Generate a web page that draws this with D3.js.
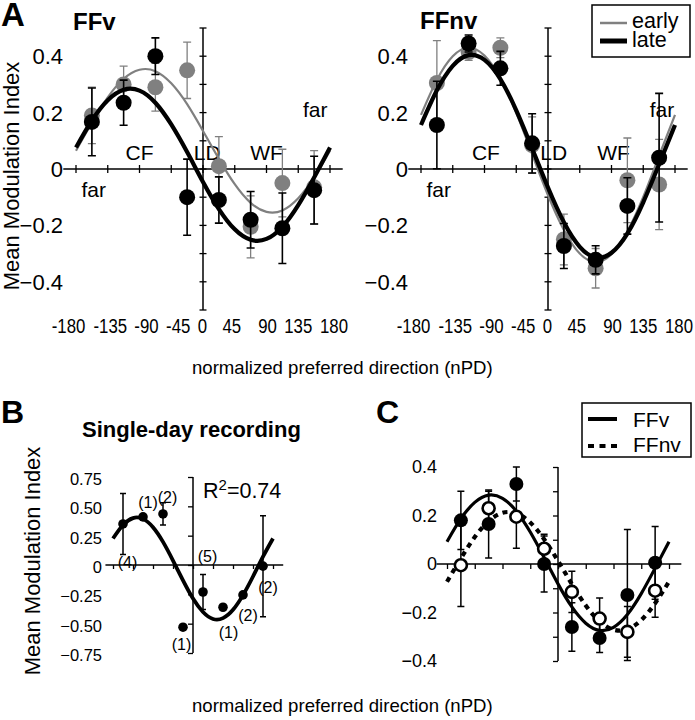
<!DOCTYPE html>
<html><head><meta charset="utf-8">
<script src="https://cdn.jsdelivr.net/npm/d3@7"></script>
<style>body{margin:0;background:#fff}svg{display:block;font-family:"Liberation Sans",Arial,Helvetica,sans-serif}</style>
</head><body><svg id="chart" width="695" height="720"></svg>
<script>
// ---------------- data ----------------
const nPD = [-157.5, -112.5, -67.5, -22.5, 22.5, 67.5, 112.5, 157.5];
const fitGrid = [-180, -157.5, -135, -112.5, -90, -67.5, -45, -22.5, 0, 22.5, 45, 67.5, 90, 112.5, 135, 157.5, 180];
const xTicks = [-180, -135, -90, -45, 0, 45, 90, 135, 180];
const xTickLabels = ["-180", "-135", "-90", "-45", "0", "45", "90", "135", "180"];

// Panel A, FFv
const ffvEarly    = [0.19, 0.30, 0.29, 0.35, 0.01, -0.205, -0.05, -0.065];
const ffvEarlyErr = [0.10, 0.065, 0.085, 0.10, 0.105, 0.11, 0.12, 0.13];
const ffvLate     = [0.167, 0.235, 0.40, -0.10, -0.11, -0.18, -0.21, -0.075];
const ffvLateErr  = [0.12, 0.08, 0.065, 0.135, 0.082, 0.10, 0.125, 0.12];
const ffvEarlyFit = [0.065, 0.164, 0.254, 0.320, 0.352, 0.347, 0.304, 0.230, 0.135, 0.036, -0.054, -0.120, -0.152, -0.147, -0.104, -0.030, 0.065];
const ffvLateFit  = [0.076, 0.172, 0.244, 0.281, 0.278, 0.235, 0.158, 0.060, -0.046, -0.142, -0.214, -0.251, -0.248, -0.205, -0.128, -0.030, 0.076];

// Panel A, FFnv
const ffnvEarly    = [0.305, 0.415, 0.43, 0.085, -0.25, -0.352, -0.04, -0.055];
const ffnvEarlyErr = [0.15, 0.03, 0.035, 0.10, 0.09, 0.07, 0.15, 0.16];
const ffnvLate     = [0.156, 0.445, 0.357, 0.091, -0.273, -0.322, -0.131, 0.04];
const ffnvLateErr  = [0.155, 0.03, 0.06, 0.105, 0.08, 0.05, 0.10, 0.228];
const ffnvEarlyFit = [0.192, 0.316, 0.400, 0.430, 0.402, 0.321, 0.199, 0.053, -0.093, -0.216, -0.300, -0.330, -0.302, -0.221, -0.099, 0.047, 0.192];
const ffnvLateFit  = [0.156, 0.279, 0.366, 0.404, 0.387, 0.319, 0.208, 0.073, -0.066, -0.189, -0.276, -0.314, -0.297, -0.229, -0.118, 0.017, 0.156];

// Panel B, single-day recording
const singleDay    = [0.35, 0.41, 0.435, -0.53, -0.23, -0.36, -0.255, -0.01];
const singleDayErr = [0.26, 0, 0.095, 0, 0.15, 0, 0, 0.43];
const singleDayN   = ["(4)", "(1)", "(2)", "(1)", "(5)", "(1)", "(2)", "(2)"];
const singleDayFit = [0.226, 0.341, 0.400, 0.393, 0.322, 0.197, 0.038, -0.131, -0.286, -0.401, -0.460, -0.453, -0.382, -0.257, -0.098, 0.071, 0.226];
const rSquared = "0.74";

// Panel C
const cFFv     = [0.18, 0.165, 0.33, 0.0, -0.26, -0.305, -0.128, 0.005];
const cFFvErr  = [0.12, 0.14, 0.07, 0.115, 0.10, 0.06, 0.27, 0.15];
const cFFnv    = [-0.005, 0.23, 0.195, 0.063, -0.115, -0.225, -0.28, -0.11];
const cFFnvErr = [0.17, 0.07, 0.13, 0.06, 0.085, 0.085, 0.105, 0.11];
const cFFvFit  = [0.092, 0.187, 0.254, 0.284, 0.271, 0.218, 0.132, 0.027, -0.082, -0.177, -0.244, -0.274, -0.261, -0.208, -0.122, -0.017, 0.092];
const cFFnvFit = [-0.073, 0.023, 0.111, 0.177, 0.211, 0.209, 0.171, 0.102, 0.013, -0.083, -0.171, -0.237, -0.271, -0.269, -0.231, -0.162, -0.073];

const yTicksA = [0.4, 0.2, 0, -0.2, -0.4];
const yTicksB = [0.75, 0.5, 0.25, 0, -0.25, -0.5, -0.75];
const yTickLabelsB = ["0.75", "0.50", "0.25", "0", "\u22120.25", "\u22120.50", "\u22120.75"];
const yTicksC = [0.4, 0.2, 0, -0.2, -0.4];
const annotText = ["CF", "LD", "WF", "far", "far"];

// ---------------- layout (not data) ----------------
const xLabelNudge = [-7.5, 2.5, 7, 7, -0.5, -3, 1, 0, 4];
const annotPosL = [[-90, 0.032], [6, 0.032], [90, 0.032], [-155, -0.10], [159, 0.184]];
const annotPosR = [[-88, 0.032], [8, 0.032], [93, 0.032], [-155, -0.10], [161.6, 0.184]];
const nLabelOffset = [[4.5, 38], [5, -15], [4.5, -17], [-1.5, 17], [4.5, -36], [5.5, 25], [5, 20], [5, 21]];

const GRAY = "#808080";
const svg = d3.select("#chart");
const fmt = v => v === 0 ? "0" : (v < 0 ? "\u2212" : "") + Math.abs(v).toFixed(1);

function pts(vals) { return vals.map((v, i) => ({ x: nPD[i], v })); }

function errBars(g, x, y, vals, errs, color, w, cap) {
  const d = vals.map((v, i) => ({ x: nPD[i], v, e: errs[i] })).filter(d => d.e > 0);
  g.append("g").selectAll("path").data(d).enter().append("path")
    .attr("d", d => {
      const px = x(d.x), t = y(d.v + d.e), b = y(d.v - d.e);
      return `M${px},${b}V${t}M${px - cap},${t}h${2 * cap}M${px - cap},${b}h${2 * cap}`;
    })
    .attr("fill", "none").attr("stroke", color).attr("stroke-width", w);
}
function curve(g, x, y, fit, color, w, dash) {
  const line = d3.line().x(d => x(d[0])).y(d => y(d[1])).curve(d3.curveNatural);
  const p = g.append("path").attr("d", line(fitGrid.map((t, i) => [t, fit[i]])))
    .attr("fill", "none").attr("stroke", color).attr("stroke-width", w);
  if (dash) p.attr("stroke-dasharray", dash);
  return p;
}
function dots(g, x, y, vals, r, fill, stroke, sw) {
  g.append("g").selectAll("circle").data(pts(vals)).enter().append("circle")
    .attr("cx", d => x(d.x)).attr("cy", d => y(d.v)).attr("r", r)
    .attr("fill", fill).attr("stroke", stroke || "none").attr("stroke-width", sw || 0);
}

// ---------------- Panel A ----------------
function panelA(xr, labelRight, early, earlyErr, late, lateErr, earlyFit, lateFit, annotPos) {
  const x = d3.scaleLinear().domain([-180, 180]).range(xr);
  const y = d3.scaleLinear().domain([-0.5, 0.5]).range([310, 28]);
  const g = svg.append("g");
  const ax = g.append("g").attr("transform", `translate(0,${y(0)})`);
  ax.append("path").attr("d", `M${x(-198)},0H${x(198)}`).attr("stroke", "#000").attr("stroke-width", 1.5);
  ax.selectAll("line").data(xTicks).enter().append("line")
    .attr("x1", d => x(d)).attr("x2", d => x(d)).attr("y1", -4).attr("y2", 4)
    .attr("stroke", "#000").attr("stroke-width", 1.3);
  const ay = g.append("g").attr("transform", `translate(${x(0)},0)`);
  ay.append("path").attr("d", `M0,${y(0.5)}V${y(-0.5)}`).attr("stroke", "#000").attr("stroke-width", 1.5);
  ay.selectAll("line").data(d3.range(-5, 6).map(k => k / 10)).enter().append("line")
    .attr("y1", d => y(d)).attr("y2", d => y(d)).attr("x1", -3.5).attr("x2", 3.5)
    .attr("stroke", "#000").attr("stroke-width", 1.3);
  g.selectAll("text.yt").data(yTicksA).enter().append("text").attr("class", "yt")
    .attr("x", labelRight).attr("y", d => y(d)).attr("dy", "0.36em")
    .attr("text-anchor", "end").attr("font-size", 22).text(fmt);
  g.selectAll("text.xt").data(xTicks).enter().append("text").attr("class", "xt")
    .attr("transform", (d, i) => `translate(${x(d) + xLabelNudge[i]},333) scale(0.8,1)`)
    .attr("text-anchor", "middle").attr("font-size", 21).text((d, i) => xTickLabels[i]);
  g.selectAll("text.an").data(annotText).enter().append("text").attr("class", "an")
    .attr("x", (d, i) => x(annotPos[i][0])).attr("y", (d, i) => y(annotPos[i][1]))
    .attr("text-anchor", "middle").attr("font-size", 21).text(d => d);
  errBars(g, x, y, early, earlyErr, GRAY, 1.3, 4);
  dots(g, x, y, early, 8, GRAY);
  curve(g, x, y, earlyFit, GRAY, 2.2);
  errBars(g, x, y, late, lateErr, "#000", 1.6, 4);
  curve(g, x, y, lateFit, "#000", 4.2);
  dots(g, x, y, late, 8, "#000");
}
panelA([76, 330], 63, ffvEarly, ffvEarlyErr, ffvLate, ffvLateErr, ffvEarlyFit, ffvLateFit, annotPosL);
panelA([421, 675], 408, ffnvEarly, ffnvEarlyErr, ffnvLate, ffnvLateErr, ffnvEarlyFit, ffnvLateFit, annotPosR);

svg.append("text").attr("x", 1).attr("y", 26).attr("font-size", 33).attr("font-weight", "bold").text("A");
svg.append("text").attr("x", 73).attr("y", 30).attr("font-size", 24).attr("font-weight", "bold").text("FFv");
svg.append("text").attr("x", 420).attr("y", 29).attr("font-size", 24).attr("font-weight", "bold").text("FFnv");
svg.append("text").attr("transform", "translate(19,176) rotate(-90)").attr("text-anchor", "middle")
  .attr("font-size", 22).text("Mean Modulation Index");
svg.append("text").attr("x", 192).attr("y", 374).attr("font-size", 18.6).text("normalized preferred direction (nPD)");

// legend A
const lgA = svg.append("g");
lgA.append("rect").attr("x", 592).attr("y", 5).attr("width", 98).attr("height", 52)
  .attr("fill", "#fff").attr("stroke", "#000").attr("stroke-width", 1.5);
lgA.append("line").attr("x1", 600).attr("x2", 627).attr("y1", 23).attr("y2", 23).attr("stroke", GRAY).attr("stroke-width", 2.5);
lgA.append("line").attr("x1", 600).attr("x2", 627).attr("y1", 41).attr("y2", 41).attr("stroke", "#000").attr("stroke-width", 5);
lgA.append("text").attr("x", 632).attr("y", 28).attr("font-size", 21.5).text("early");
lgA.append("text").attr("x", 632).attr("y", 47).attr("font-size", 21.5).text("late");

// ---------------- Panel B ----------------
(function () {
  const x = d3.scaleLinear().domain([-180, 180]).range([113, 273]);
  const y = d3.scaleLinear().domain([-0.75, 0.75]).range([653, 477]);
  const g = svg.append("g");
  g.append("g").attr("transform", `translate(0,${y(0)})`)
    .call(d3.axisBottom(x).tickValues(xTicks).tickSize(4).tickFormat(""))
    .call(a => a.select(".domain").attr("d", `M${x(-197)},0H${x(203)}`).attr("stroke-width", 1.5));
  g.append("g").attr("transform", `translate(${x(0)},0)`)
    .call(d3.axisLeft(y).tickValues(yTicksB).tickSize(5).tickFormat(""))
    .call(a => a.select(".domain").attr("d", `M0,${y(0.75)}V${y(-0.75)}`).attr("stroke-width", 1.5));
  g.selectAll("line").attr("stroke-width", 1.3);
  g.selectAll("text.yt").data(yTicksB).enter().append("text").attr("class", "yt")
    .attr("x", 102).attr("y", d => y(d) + 2).attr("dy", "0.36em").attr("text-anchor", "end")
    .attr("font-size", 16.5).text((d, i) => yTickLabelsB[i]);
  errBars(g, x, y, singleDay, singleDayErr, "#000", 1.5, 3);
  curve(g, x, y, singleDayFit, "#000", 3.8);
  dots(g, x, y, singleDay, 4.8, "#000");
  g.selectAll("text.n").data(singleDay).enter().append("text").attr("class", "n")
    .attr("x", (d, i) => x(nPD[i]) + nLabelOffset[i][0]).attr("y", (d, i) => y(d) + nLabelOffset[i][1])
    .attr("dy", "0.36em").attr("text-anchor", "middle").attr("font-size", 16).text((d, i) => singleDayN[i]);
  const r2 = g.append("text").attr("x", 203).attr("y", 498).attr("font-size", 21.5);
  r2.append("tspan").text("R");
  r2.append("tspan").attr("font-size", 15).attr("dy", -8).text("2");
  r2.append("tspan").attr("dy", 8).text("=" + rSquared);
})();
svg.append("text").attr("x", 1).attr("y", 423).attr("font-size", 32).attr("font-weight", "bold").text("B");
svg.append("text").attr("x", 82).attr("y", 437).attr("font-size", 22).attr("font-weight", "bold").text("Single-day recording");
svg.append("text").attr("transform", "translate(40,561) rotate(-90)").attr("text-anchor", "middle")
  .attr("font-size", 22).text("Mean Modulation Index");
svg.append("text").attr("x", 192).attr("y", 712).attr("font-size", 18.6).text("normalized preferred direction (nPD)");

// ---------------- Panel C ----------------
(function () {
  const x = d3.scaleLinear().domain([-180, 180]).range([447, 669]);
  const y = d3.scaleLinear().domain([-0.4, 0.4]).range([661, 467]);
  const g = svg.append("g");
  g.append("g").attr("transform", `translate(0,${y(0)})`)
    .call(d3.axisBottom(x).tickValues(xTicks).tickSize(5).tickFormat(""))
    .call(a => a.select(".domain").attr("d", `M${x(-197)},0H${x(200)}`).attr("stroke-width", 1.5));
  g.append("g").attr("transform", `translate(${x(0)},0)`)
    .call(d3.axisLeft(y).tickValues(d3.range(-4, 5).map(k => k / 10)).tickSize(5).tickFormat(""))
    .call(a => a.select(".domain").attr("d", `M0,${y(0.4)}V${y(-0.4)}`).attr("stroke-width", 1.5));
  g.selectAll("line").attr("stroke-width", 1.3);
  g.selectAll("text.yt").data(yTicksC).enter().append("text").attr("class", "yt")
    .attr("x", 437).attr("y", d => y(d)).attr("dy", "0.36em").attr("text-anchor", "end")
    .attr("font-size", 18).text(fmt);
  errBars(g, x, y, cFFv, cFFvErr, "#000", 1.5, 3.5);
  errBars(g, x, y, cFFnv, cFFnvErr, "#000", 1.5, 3.5);
  curve(g, x, y, cFFvFit, "#000", 3.2);
  curve(g, x, y, cFFnvFit, "#000", 4.2, "5,5");
  dots(g, x, y, cFFv, 7, "#000");
  dots(g, x, y, cFFnv, 6, "#fff", "#000", 2.6);
})();
svg.append("text").attr("x", 376).attr("y", 423).attr("font-size", 32).attr("font-weight", "bold").text("C");
const lgC = svg.append("g");
lgC.append("rect").attr("x", 582).attr("y", 403).attr("width", 109).attr("height", 54)
  .attr("fill", "#fff").attr("stroke", "#000").attr("stroke-width", 1.5);
lgC.append("line").attr("x1", 588).attr("x2", 617).attr("y1", 419).attr("y2", 419).attr("stroke", "#000").attr("stroke-width", 4);
lgC.append("line").attr("x1", 588).attr("x2", 617).attr("y1", 446).attr("y2", 446).attr("stroke", "#000").attr("stroke-width", 4).attr("stroke-dasharray", "6,5.5");
lgC.append("text").attr("x", 633).attr("y", 427).attr("font-size", 21).text("FFv");
lgC.append("text").attr("x", 633).attr("y", 452).attr("font-size", 21).text("FFnv");
</script></body></html>
